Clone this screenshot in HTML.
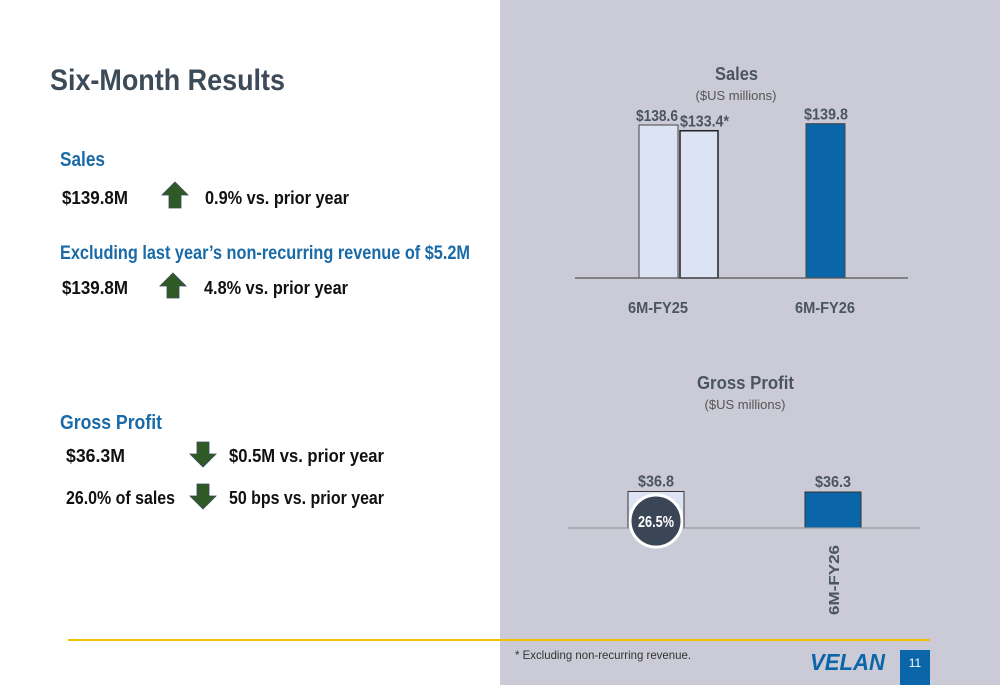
<!DOCTYPE html>
<html><head><meta charset="utf-8"><style>
html,body{margin:0;padding:0;width:1000px;height:685px;overflow:hidden;background:#fff}
svg{display:block}
text{font-family:"Liberation Sans",sans-serif;font-weight:700}
.n{font-weight:400}
</style></head><body>
<svg width="1000" height="685" viewBox="0 0 1000 685">
<rect x="0" y="0" width="500" height="685" fill="#ffffff"/>
<rect x="500" y="0" width="500" height="685" fill="#cbcbd7"/>
<text x="50" y="90" font-size="30" fill="#3d4a57" textLength="235" lengthAdjust="spacingAndGlyphs">Six-Month Results</text>
<text x="60" y="166" font-size="20" fill="#1a6aa8" textLength="45" lengthAdjust="spacingAndGlyphs">Sales</text>
<text x="62" y="204" font-size="18" fill="#111" textLength="66" lengthAdjust="spacingAndGlyphs">$139.8M</text>
<polygon points="175,182 188,195 181,195 181,208 169,208 169,195 162,195" fill="#2f5a26" stroke="#3b4a5a" stroke-width="0.8"/>
<text x="205" y="204" font-size="18" fill="#111" textLength="144" lengthAdjust="spacingAndGlyphs">0.9% vs. prior year</text>
<text x="60" y="259" font-size="19" fill="#1a6aa8" textLength="410" lengthAdjust="spacingAndGlyphs">Excluding last year’s non-recurring revenue of $5.2M</text>
<text x="62" y="294" font-size="18" fill="#111" textLength="66" lengthAdjust="spacingAndGlyphs">$139.8M</text>
<polygon points="173,273 186,286 179,286 179,298 167,298 167,286 160,286" fill="#2f5a26" stroke="#3b4a5a" stroke-width="0.8"/>
<text x="204" y="294" font-size="18" fill="#111" textLength="144" lengthAdjust="spacingAndGlyphs">4.8% vs. prior year</text>
<text x="60" y="429" font-size="20" fill="#1a6aa8" textLength="102" lengthAdjust="spacingAndGlyphs">Gross Profit</text>
<text x="66" y="462" font-size="18" fill="#111" textLength="59" lengthAdjust="spacingAndGlyphs">$36.3M</text>
<polygon points="197,442 209,442 209,454 216,454 203,467 190,454 197,454" fill="#2f5a26" stroke="#3b4a5a" stroke-width="0.8"/>
<text x="229" y="462" font-size="18" fill="#111" textLength="155" lengthAdjust="spacingAndGlyphs">$0.5M vs. prior year</text>
<text x="66" y="504" font-size="18" fill="#111" textLength="109" lengthAdjust="spacingAndGlyphs">26.0% of sales</text>
<polygon points="197,484 209,484 209,496 216,496 203,509 190,496 197,496" fill="#2f5a26" stroke="#3b4a5a" stroke-width="0.8"/>
<text x="229" y="504" font-size="18" fill="#111" textLength="155" lengthAdjust="spacingAndGlyphs">50 bps vs. prior year</text>

<g id="sales-chart">
<text x="715" y="80" font-size="18" fill="#4a5560" textLength="43" lengthAdjust="spacingAndGlyphs">Sales</text>
<text class="n" x="736" y="100" text-anchor="middle" font-size="13" fill="#555">($US millions)</text>
</g>
<g id="gp-chart">
<text x="697" y="389" font-size="18" fill="#4a5560" textLength="97" lengthAdjust="spacingAndGlyphs">Gross Profit</text>
<text class="n" x="745" y="409" text-anchor="middle" font-size="13" fill="#555">($US millions)</text>
</g>

<line x1="68" y1="640" x2="930" y2="640" stroke="#f2c200" stroke-width="2"/>
<text class="n" x="515" y="659" font-size="12" fill="#333" textLength="176" lengthAdjust="spacingAndGlyphs">* Excluding non-recurring revenue.</text>
<text x="810" y="670" font-size="23" font-style="italic" fill="#0a66a8" textLength="75" lengthAdjust="spacingAndGlyphs">VELAN</text>
<rect x="900" y="650" width="30" height="35" fill="#0a66a8"/>
<text class="n" x="915" y="667" text-anchor="middle" font-size="12" fill="#fff">11</text>
</svg>
<script>
const NS='http://www.w3.org/2000/svg';
const salesLabels=['$138.6','$133.4*','$139.8'];
const salesValues=[138.6,133.4,139.8];
const salesCategories=['6M-FY25','6M-FY26'];
const gpValues=[36.8,36.3];
const gpLabels=['$36.8','$36.3'];
const gpMarginLabel='26.5%';
function mk(tag,attrs,parent){const e=document.createElementNS(NS,tag);for(const k in attrs)e.setAttribute(k,attrs[k]);parent.appendChild(e);return e;}
const sg=document.getElementById('sales-chart');
const sBase=278, sScale=153/138.6;
const sy=v=>sBase-v*sScale;
const sX=[639,680,806], sW=[39,38,39];
const sFill=['#dce4f4','#dce4f4','#0a66a8'];
const sLabX=[636,680,804], sLabW=[42,49,44];
for(let i=0;i<salesValues.length;i++){
 const r=mk('rect',{x:sX[i],y:sy(salesValues[i]),width:sW[i],height:sBase-sy(salesValues[i]),fill:sFill[i],stroke:i==1?'#222':'#444','stroke-width':i==1?1.5:1},sg);
 
 
 const t=mk('text',{x:sLabX[i],y:sy(salesValues[i])-4,'font-size':16,fill:'#4a5560',textLength:sLabW[i],lengthAdjust:'spacingAndGlyphs'},sg);
 t.textContent=salesLabels[i];
 
 
}
const sAx=mk('line',{x1:575,y1:sBase,x2:908,y2:sBase,stroke:'#555','stroke-width':1.2},sg);


const catX=[628,795];
salesCategories.forEach((c,i)=>{
 const t=mk('text',{x:catX[i],y:313,'font-size':16,fill:'#4a5560',textLength:60,lengthAdjust:'spacingAndGlyphs'},sg);
 t.textContent=c;
 
 
});
const gg=document.getElementById('gp-chart');
const gBase=528, gScale=36.5/36.8;
const gy=v=>gBase-v*gScale;
const gX=[628,805], gW=56, gFill=['#dce4f4','#0a66a8'];
gpValues.forEach((v,i)=>{
 const r=mk('rect',{x:gX[i],y:gy(v),width:gW,height:gBase-gy(v),fill:gFill[i],stroke:'#333','stroke-width':1},gg);
 
 
 const t=mk('text',{x:gX[i]+10,y:gy(v)-5,'font-size':16,fill:'#4a5560',textLength:36,lengthAdjust:'spacingAndGlyphs'},gg);
 t.textContent=gpLabels[i];
 
 
});
const gAx=mk('line',{x1:568,y1:gBase,x2:920,y2:gBase,stroke:'#999','stroke-width':1.2},gg);


const circ=mk('circle',{cx:656,cy:521,r:26,fill:'#3a4556',stroke:'#fff','stroke-width':3},gg);


const ct=mk('text',{x:638,y:527,'font-size':16,fill:'#fff',textLength:36,lengthAdjust:'spacingAndGlyphs'},gg);
ct.textContent=gpMarginLabel;


const rl=mk('text',{x:-35,y:0,'font-size':15,fill:'#4a5560',textLength:70,lengthAdjust:'spacingAndGlyphs',transform:'translate(839,580) rotate(-90)'},gg);
rl.textContent=salesCategories[1];


</script>
</body></html>
